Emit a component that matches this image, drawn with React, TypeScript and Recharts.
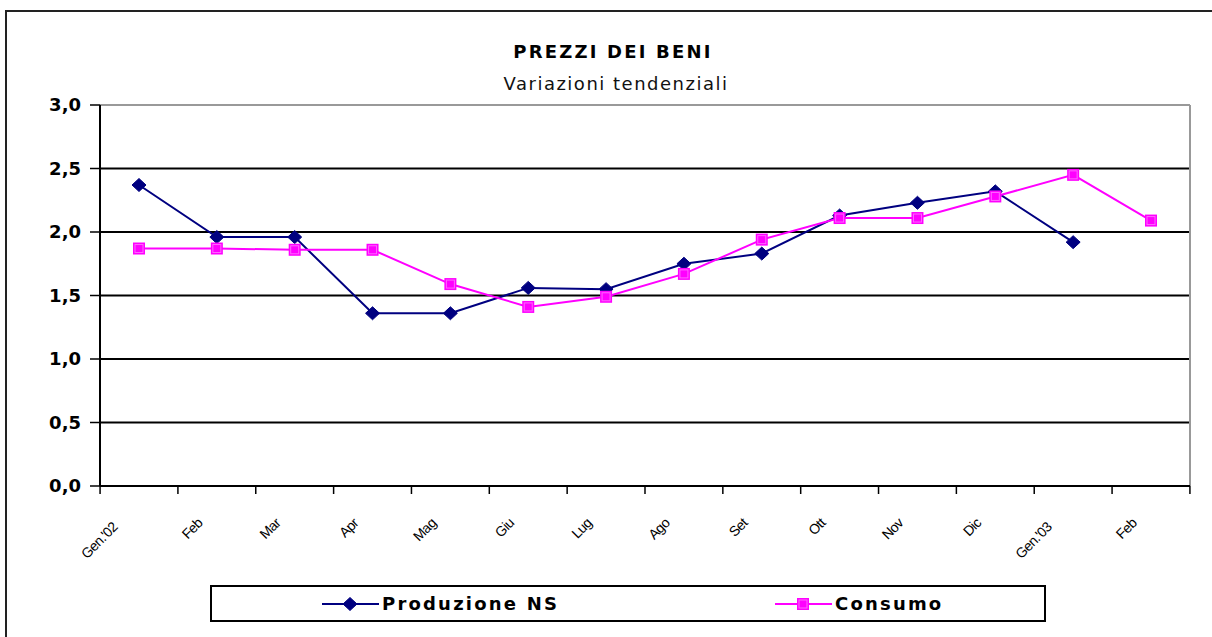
import React from "react";
import { LineChart, Line, XAxis, YAxis, CartesianGrid, Legend, Text } from "recharts";

// mesi sull'asse X
const mesi = ["Gen.'02", "Feb", "Mar", "Apr", "Mag", "Giu", "Lug", "Ago", "Set", "Ott", "Nov", "Dic", "Gen.'03", "Feb"];
// variazioni tendenziali (%)
const produzioneNS = [2.37, 1.96, 1.96, 1.36, 1.36, 1.56, 1.55, 1.75, 1.83, 2.13, 2.23, 2.32, 1.92, null];
const consumo = [1.87, 1.87, 1.86, 1.86, 1.59, 1.41, 1.49, 1.67, 1.94, 2.11, 2.11, 2.28, 2.45, 2.09];
const yTicks = [0, 0.5, 1, 1.5, 2, 2.5, 3];
const serieOrdine = ["produzione", "consumo"];

const NAVY = "#000080";
const MAGENTA = "#FF00FF";
const FONT = "'DejaVu Sans', Verdana, sans-serif";

const data = mesi.map((m, i) => ({
    mese: m,
    produzione: produzioneNS[i],
    consumo: consumo[i],
}));

function fmt(v: number) {
    return v.toFixed(1).replace(".", ",");
}

function Diamond({ cx, cy }: { cx: number; cy: number }) {
    return (
        <polygon
            points={`${cx},${cy - 6.5} ${cx + 7},${cy} ${cx},${cy + 6.5} ${cx - 7},${cy}`}
            fill={NAVY}
            stroke={NAVY}
            strokeWidth={1}
        />
    );
}

function Square({ cx, cy }: { cx: number; cy: number }) {
    return (
        <g>
            <rect x={cx - 6} y={cy - 6} width={12} height={12} fill={MAGENTA} />
            <rect x={cx - 4} y={cy - 4} width={8} height={8} fill="none" stroke="#ff66ff" strokeWidth={1} />
        </g>
    );
}

// tick con le tacche tra le categorie, come in Excel
function XTick(props: any) {
    const { x, y, payload, index, width } = props;
    const step = width / mesi.length;
    const label = String(payload.value);
    const ax = x - (8 + label.length * 1.8);
    const ay = y + 38 + (label.length - 3);
    return (
        <g>
            <line x1={x - step / 2} y1={y} x2={x - step / 2} y2={y + 8} stroke="#000" strokeWidth={1.5} />
            {index === mesi.length - 1 && (
                <line x1={x + step / 2} y1={y} x2={x + step / 2} y2={y + 8} stroke="#000" strokeWidth={1.5} />
            )}
            <Text
                x={ax}
                y={ay}
                angle={-45}
                textAnchor="end"
                verticalAnchor="end"
                fontFamily="'Liberation Sans', Arial, sans-serif"
                fontSize={14}
                letterSpacing={-0.6}
                fill="#000"
            >
                {label}
            </Text>
        </g>
    );
}

function LegendBox({ payload }: any) {
    const lefts = [110, 563];
    const items = serieOrdine
        .map((k) => (payload || []).find((p: any) => p.dataKey === k))
        .filter(Boolean);
    return (
        <div
            style={{
                position: "relative",
                width: 836,
                height: 37,
                border: "2px solid #000",
                boxSizing: "border-box",
                background: "#fff",
            }}
        >
            {items.map((p: any, i: number) => (
                <div
                    key={p.dataKey}
                    style={{
                        position: "absolute",
                        left: lefts[i],
                        top: 0,
                        height: 33,
                        display: "flex",
                        alignItems: "center",
                    }}
                >
                    <svg width={58} height={20}>
                        <line x1={0} y1={10} x2={57} y2={10} stroke={p.color} strokeWidth={2} />
                        {p.dataKey === "produzione" ? <Diamond cx={28} cy={10} /> : <Square cx={28} cy={10} />}
                    </svg>
                    <span
                        style={{
                            fontFamily: FONT,
                            fontWeight: "bold",
                            fontSize: 18,
                            letterSpacing: 2.2,
                            marginLeft: 2,
                            color: "#000",
                        }}
                    >
                        {p.value}
                    </span>
                </div>
            ))}
        </div>
    );
}

export default function App() {
    return (
        <div
            style={{
                position: "absolute",
                left: 0,
                top: 0,
                width: 1212,
                height: 637,
                overflow: "hidden",
                background: "#fff",
            }}
        >
            {/* cornice esterna */}
            <div
                style={{
                    position: "absolute",
                    left: 5,
                    top: 10,
                    width: 1300,
                    height: 700,
                    border: "2px solid #222",
                }}
            />
            <div
                style={{
                    position: "absolute",
                    left: 313,
                    top: 43,
                    width: 600,
                    textAlign: "center",
                    fontFamily: FONT,
                    fontWeight: "bold",
                    fontSize: 18,
                    lineHeight: "18px",
                    letterSpacing: 2.2,
                    color: "#000",
                }}
            >
                PREZZI DEI BENI
            </div>
            <div
                style={{
                    position: "absolute",
                    left: 316,
                    top: 75,
                    width: 600,
                    textAlign: "center",
                    fontFamily: FONT,
                    fontSize: 18,
                    lineHeight: "18px",
                    letterSpacing: 1.5,
                    color: "#111",
                }}
            >
                Variazioni tendenziali
            </div>

            <LineChart
                width={1212}
                height={637}
                data={data}
                margin={{ top: 105, right: 22, left: 5, bottom: 91 }}
                style={{ position: "absolute", left: 0, top: 0 }}
            >
                <CartesianGrid vertical={false} stroke="#000" strokeWidth={2} />
                <CartesianGrid
                    stroke="#999"
                    strokeWidth={2}
                    horizontalCoordinatesGenerator={({ offset }: any) => [offset.top]}
                    verticalCoordinatesGenerator={({ offset }: any) => [offset.left + offset.width]}
                />
                <XAxis
                    dataKey="mese"
                    allowDuplicatedCategory
                    interval={0}
                    height={60}
                    padding={{ left: 39, right: 39 }}
                    tickLine={false}
                    tickSize={0}
                    tickMargin={0}
                    axisLine={{ stroke: "#000", strokeWidth: 2 }}
                    tick={<XTick />}
                />
                <YAxis
                    domain={[0, 3]}
                    ticks={yTicks}
                    width={95}
                    tickSize={10}
                    tickMargin={9}
                    tickFormatter={fmt}
                    axisLine={{ stroke: "#000", strokeWidth: 2 }}
                    tickLine={{ stroke: "#000", strokeWidth: 1.5 }}
                    tick={{ fontFamily: FONT, fontWeight: "bold", fontSize: 18, fill: "#000" }}
                />
                <Legend
                    layout="horizontal"
                    verticalAlign="middle"
                    align="center"
                    content={<LegendBox />}
                    wrapperStyle={{ left: 210, top: 585, width: 836, height: 37 }}
                />
                <Line
                    type="linear"
                    dataKey="produzione"
                    name="Produzione NS"
                    stroke={NAVY}
                    strokeWidth={2}
                    isAnimationActive={false}
                    dot={(p: any) =>
                        p.value == null || p.cy == null ? <g key={p.index} /> : <Diamond key={p.index} cx={p.cx} cy={p.cy} />
                    }
                />
                <Line
                    type="linear"
                    dataKey="consumo"
                    name="Consumo"
                    stroke={MAGENTA}
                    strokeWidth={2}
                    isAnimationActive={false}
                    dot={(p: any) =>
                        p.value == null || p.cy == null ? <g key={p.index} /> : <Square key={p.index} cx={p.cx} cy={p.cy} />
                    }
                />
            </LineChart>
        </div>
    );
}
